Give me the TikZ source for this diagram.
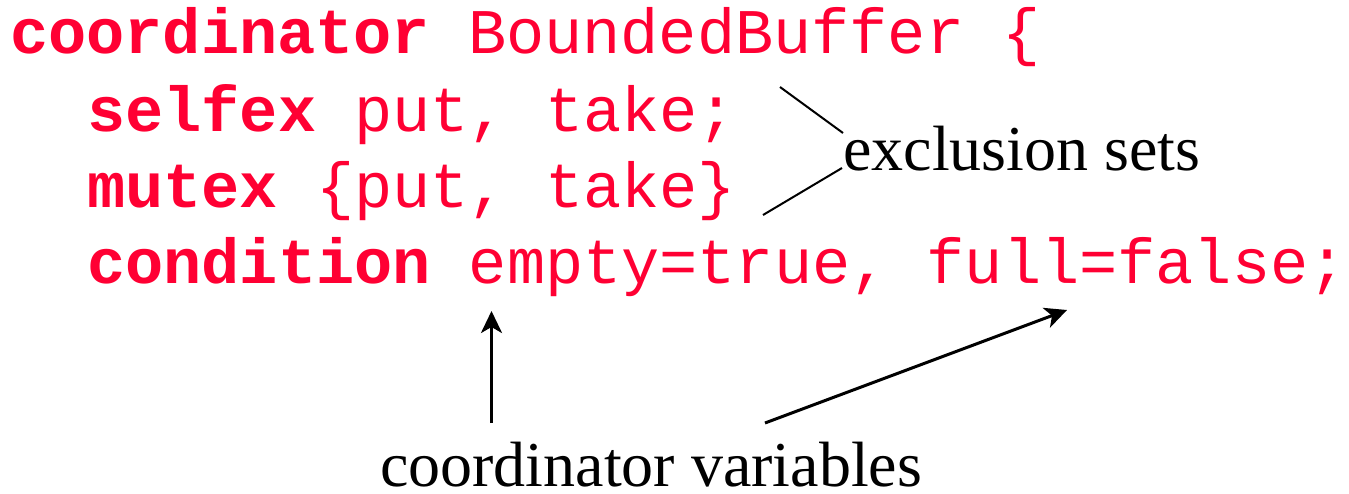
\documentclass[tikz,border=0pt]{standalone}
\usepackage{fontspec}
\setmainfont{Liberation Serif}
\newfontfamily\codefont{Liberation Mono}
\usetikzlibrary{arrows.meta}
\definecolor{codered}{HTML}{FF0033}
\tikzset{
  code/.style={anchor=base west, inner sep=0pt, text=codered,
    font=\codefont\fontsize{63.6}{64}\selectfont},
  note/.style={anchor=base west, inner sep=0pt, text=black,
    font=\fontsize{64}{64}\selectfont},
  pointer/.style={line width=3pt, -{Stealth[length=22pt, width=21pt, inset=6pt]}},
  brace/.style={line width=2pt}
}
\begin{document}
\begin{tikzpicture}[x=1pt, y=-1pt]
  \useasboundingbox (0,0) rectangle (1349,493);
  % code lines
  \node[code] (l1) at (10,53)  {\textbf{coordinator} BoundedBuffer \{};
  \node[code] (l2) at (87,131) {\textbf{selfex} put, take;};
  \node[code] (l3) at (87,207) {\textbf{mutex} \{put, take\}};
  \node[code] (l4) at (87,283) {\textbf{condition} empty=true, full=false;};
  % annotations
  \node[note] (excl) at (843,170) {exclusion sets};
  \node[note] (vars) at (380,486) {coordinator variables};
  % exclusion set lines
  \coordinate (s1) at (780,87);
  \coordinate (e1) at (843,133);
  \coordinate (s2) at (763,215);
  \coordinate (e2) at (842,168);
  \draw[brace] (s1) -- (e1);
  \draw[brace] (s2) -- (e2);
  % variable pointers
  \coordinate (a1) at (491.5,423);
  \coordinate (t1) at (491.5,311);
  \coordinate (a2) at (765,423);
  \coordinate (t2) at (1067,310);
  \draw[pointer] (a1) -- (t1);
  \draw[pointer] (a2) -- (t2);
\end{tikzpicture}
\end{document}
